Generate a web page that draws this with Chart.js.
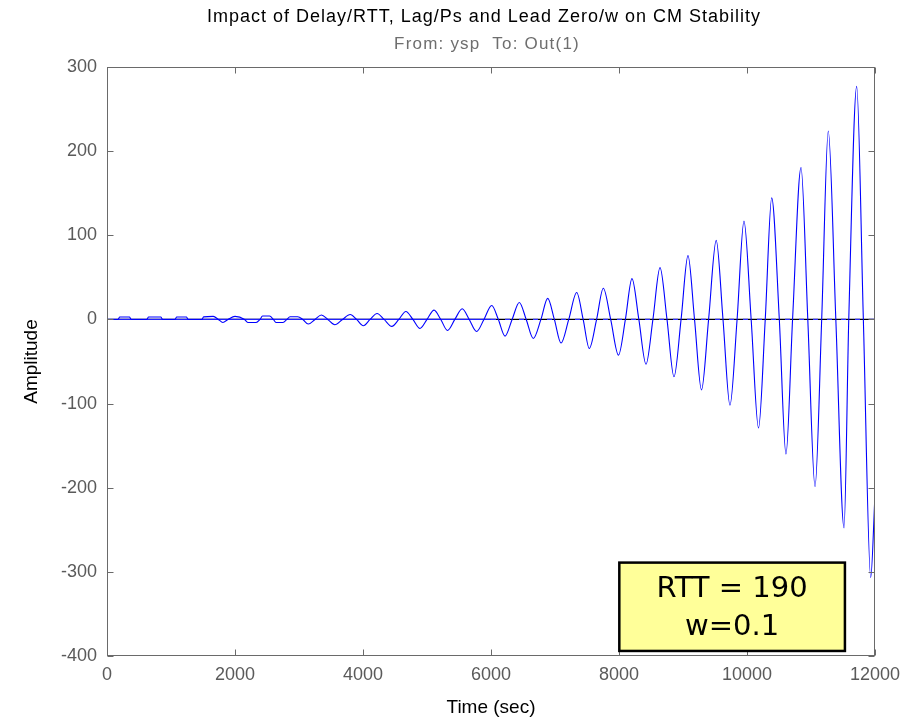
<!DOCTYPE html>
<html>
<head>
<meta charset="utf-8">
<script src="https://cdn.jsdelivr.net/npm/chart.js@4.4.1/dist/chart.umd.min.js"></script>
<style>
  html, body { margin: 0; padding: 0; background: #ffffff; }
  #wrap { width: 921px; height: 722px; }
</style>
</head>
<body>
<div id="wrap"><canvas id="chart" width="921" height="722"></canvas></div>
<script>
// Step response from ysp to Out(1): time samples (sec) and amplitude
const timeSec = [
  0, 170, 200, 350, 380, 620, 650, 840, 870, 1060, 1090, 1240, 1270,
  1480, 1510, 1660, 1740, 1810, 1890, 2000, 2150, 2200, 2330, 2390,
  2430, 2540, 2600, 2640, 2750, 2810, 2860, 2980, 3060, 3145, 3250,
  3350, 3450, 3560, 3680, 3800, 3900, 4005, 4110, 4220, 4330, 4450,
  4560, 4670, 4780, 4890, 5000, 5110, 5215, 5320, 5435, 5550, 5660,
  5775, 5890, 6011, 6115, 6219, 6330, 6442, 6550, 6661, 6780, 6886,
  6990, 7094, 7215, 7339, 7440, 7536, 7650, 7755, 7870, 7992, 8100,
  8203, 8310, 8422, 8530, 8641, 8750, 8859, 8970, 9078, 9180, 9289,
  9400, 9519, 9625, 9734, 9845, 9953, 10065, 10180, 10285, 10386,
  10505, 10609, 10712, 10844, 10950, 11063, 11167, 11270, 11388,
  11516, 11590, 11714, 11818, 11933, 12000
];
const amplitude = [
  0, 0, 2.8, 2.8, 0, 0, 2.8, 2.8, 0, 0, 2.8, 2.8, 0,
  0, 3, 3.6, 0, -3.6, 0, 3.6, 0, -3.6, -3.6, 0,
  4, 4, 0, -3.6, -3.6, 0, 3.2, 3.2, 0, -5.5, 0,
  5.2, 0, -6.3, 0, 5.9, 0, -7.5, 0, 7.1, 0, -8.3,
  0, 9.5, 0, -10.7, 0, 11.1, 0, -13.1, 0, 12.7, 0,
  -14.3, 0, 16.6, 0, -19.8, 0, 20.2, 0, -22.6, 0, 25,
  0, -28.1, 0, 32, 0, -34.5, 0, 37, 0, -42.4, 0,
  48.5, 0, -53.2, 0, 61.6, 0, -68.2, 0, 75.8, 0, -83.8,
  0, 94, 0, -102, 0, 116.8, 0, -129, 0, 144.5,
  0, -160, 0, 180.5, 0, -198.6, 0, 224, 0,
  -247.7, 0, 277, 0, -306.8, -208
];

// Axis ticks
const xTicks = [0, 2000, 4000, 6000, 8000, 10000, 12000];
const yTicks = [-400, -300, -200, -100, 0, 100, 200, 300];

const titleText = 'Impact of Delay/RTT, Lag/Ps and Lead Zero/w on CM Stability';
const subtitleText = 'From: ysp  To: Out(1)';
const noteLines = ['RTT = 190', 'w=0.1'];

const FONT = "'Liberation Sans', Arial, Helvetica, sans-serif";

const responsePoints = timeSec.map((t, i) => ({ x: t, y: amplitude[i] }));
const xMin = xTicks[0], xMax = xTicks[xTicks.length - 1];
const yMin = yTicks[0], yMax = yTicks[yTicks.length - 1];

// Heading lines above the plot box
const headings = {
  id: 'headings',
  afterDraw(chart) {
    const { ctx } = chart;
    const cx = 484;
    ctx.save();
    ctx.textAlign = 'center';
    ctx.textBaseline = 'middle';
    ctx.letterSpacing = '1px';
    ctx.fillStyle = '#000000';
    ctx.font = '18px ' + FONT;
    ctx.fillText(titleText, cx, 17);
    ctx.letterSpacing = '1.2px';
    ctx.fillStyle = '#6e6e6e';
    ctx.font = '17px ' + FONT;
    ctx.fillText(subtitleText, cx + 3, 44);
    ctx.restore();
  }
};

// Box outline with inward tick marks on all four sides, plus the note box
const frameAndNote = {
  id: 'frameAndNote',
  afterDatasetsDraw(chart) {
    const { ctx, chartArea: a, scales: { x, y } } = chart;
    ctx.save();
    ctx.strokeStyle = '#6a6a6a';
    ctx.lineWidth = 1;
    const L = Math.round(a.left) + 0.5, R = Math.round(a.right) - 0.5;
    const T = Math.round(a.top) + 0.5, B = Math.round(a.bottom) - 0.5;
    ctx.strokeRect(L, T, R - L, B - T);
    const tl = 6;
    ctx.beginPath();
    xTicks.forEach(v => {
      const px = Math.round(x.getPixelForValue(v)) + 0.5;
      ctx.moveTo(px, B); ctx.lineTo(px, B - tl);
      ctx.moveTo(px, T); ctx.lineTo(px, T + tl);
    });
    yTicks.forEach(v => {
      const py = Math.round(y.getPixelForValue(v)) + 0.5;
      ctx.moveTo(L, py); ctx.lineTo(L + tl, py);
      ctx.moveTo(R, py); ctx.lineTo(R - tl, py);
    });
    ctx.stroke();
    ctx.restore();
  },
  afterDraw(chart) {
    const { ctx, scales: { x, y } } = chart;
    const bx0 = x.getPixelForValue(8005), bx1 = x.getPixelForValue(11530);
    const by0 = y.getPixelForValue(-289), by1 = y.getPixelForValue(-394);
    ctx.save();
    ctx.fillStyle = '#ffff99';
    ctx.fillRect(bx0, by0, bx1 - bx0, by1 - by0);
    ctx.strokeStyle = '#000000';
    ctx.lineWidth = 2.5;
    ctx.strokeRect(bx0, by0, bx1 - bx0, by1 - by0);
    ctx.fillStyle = '#000000';
    ctx.font = "29px 'DejaVu Sans', sans-serif";
    ctx.textAlign = 'center';
    ctx.textBaseline = 'middle';
    const cx = (bx0 + bx1) / 2;
    ctx.fillText(noteLines[0], cx, by0 + 27);
    ctx.fillText(noteLines[1], cx, by0 + 65);
    ctx.restore();
  }
};

new Chart(document.getElementById('chart'), {
  type: 'line',
  data: {
    datasets: [
      {
        // zero reference line
        data: [{ x: xMin, y: 0 }, { x: xMax, y: 0 }],
        borderColor: '#000000',
        borderWidth: 1.2,
        pointRadius: 0,
        order: 3
      },
      {
        data: [{ x: xMin, y: 0 }, { x: 6000, y: 0 }],
        borderColor: '#2020ff',
        borderWidth: 1.2,
        pointRadius: 0,
        order: 2
      },
      {
        data: [{ x: 6000, y: 0 }, { x: xMax, y: 0 }],
        borderColor: '#3030ff',
        borderWidth: 1.2,
        borderDash: [5, 9],
        pointRadius: 0,
        order: 2
      },
      {
        label: 'Out(1)',
        data: responsePoints,
        borderColor: '#0000ff',
        borderWidth: 1.1,
        pointRadius: 0,
        cubicInterpolationMode: 'monotone',
        order: 1
      }
    ]
  },
  options: {
    responsive: false,
    animation: false,
    events: [],
    layout: { padding: { left: 0, right: 46, top: 67, bottom: 0 } },
    plugins: {
      legend: { display: false },
      tooltip: { enabled: false },
      title: { display: false },
      subtitle: { display: false }
    },
    scales: {
      x: {
        type: 'linear',
        min: xMin,
        max: xMax,
        afterBuildTicks: s => { s.ticks = xTicks.map(v => ({ value: v })); },
        afterFit: s => { s.height = 66; },
        grid: { display: false, drawTicks: false },
        border: { display: false },
        ticks: {
          color: '#5a5a5a',
          font: { family: FONT, size: 18 },
          padding: 8,
          maxRotation: 0,
          autoSkip: false,
          callback: v => String(v)
        },
        title: {
          display: true,
          text: 'Time (sec)',
          color: '#000000',
          font: { family: FONT, size: 19 },
          padding: { top: 0, bottom: 3 }
        }
      },
      y: {
        type: 'linear',
        min: yMin,
        max: yMax,
        afterBuildTicks: s => { s.ticks = yTicks.map(v => ({ value: v })); },
        afterFit: s => { s.width = 107; },
        grid: { display: false, drawTicks: false },
        border: { display: false },
        ticks: {
          color: '#5a5a5a',
          font: { family: FONT, size: 18 },
          padding: 10,
          autoSkip: false,
          callback: v => String(v)
        },
        title: {
          display: true,
          text: 'Amplitude',
          color: '#000000',
          font: { family: FONT, size: 19 },
          padding: { top: 20, bottom: 0 }
        }
      }
    }
  },
  plugins: [frameAndNote, headings]
});
</script>
</body>
</html>
